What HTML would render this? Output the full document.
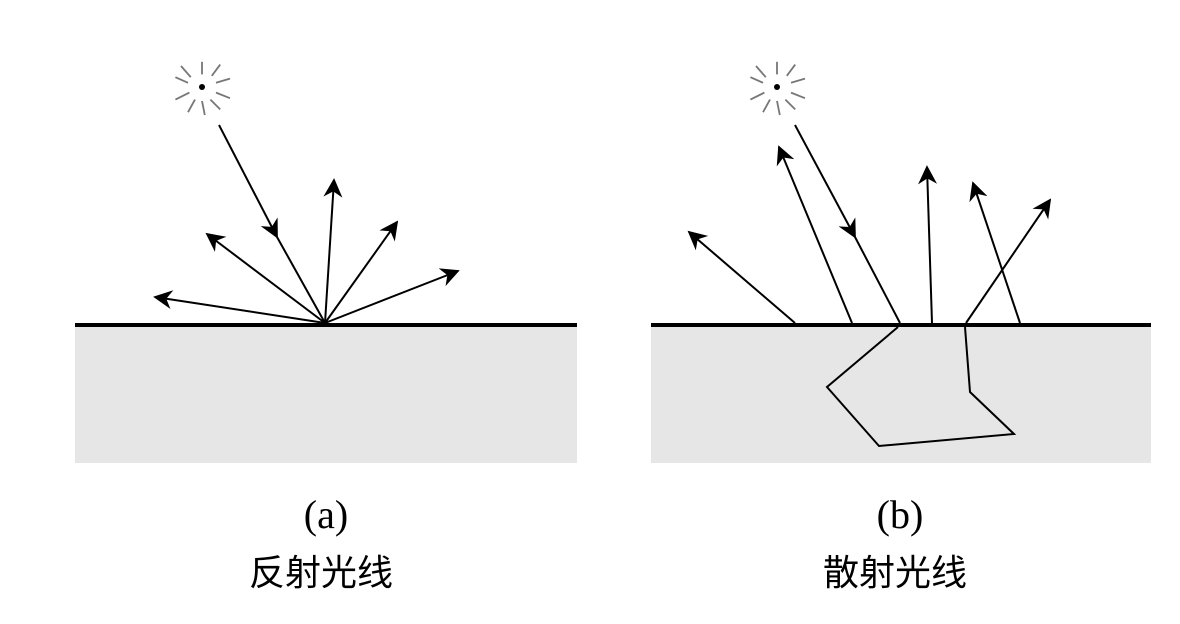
<!DOCTYPE html>
<html><head><meta charset="utf-8"><style>
html,body{margin:0;padding:0;background:#fff;}
svg{display:block;}
</style></head><body>
<svg width="1180" height="624" viewBox="0 0 1180 624" xmlns="http://www.w3.org/2000/svg">
<defs>
<marker id="ah" viewBox="0 0 10 10" refX="9" refY="5" markerWidth="19" markerHeight="19" markerUnits="userSpaceOnUse" orient="auto">
<path d="M0,0 L10,5 L0,10 L3,5 Z" fill="#000"/>
</marker>
<g id="sun" stroke="#777" stroke-width="1.3">
<line x1="-8" y1="-7" x2="-15" y2="-15"/><line x1="0" y1="-9" x2="0" y2="-18"/><line x1="7" y1="-8" x2="13" y2="-16"/>
<line x1="10" y1="-3" x2="20" y2="-6"/><line x1="10" y1="4" x2="20" y2="8"/><line x1="6" y1="9" x2="13" y2="16"/>
<line x1="0" y1="10" x2="2" y2="20"/><line x1="-5" y1="9" x2="-10" y2="18"/><line x1="-9" y1="4" x2="-19" y2="9"/><line x1="-10" y1="-3" x2="-19" y2="-7"/>
</g>
</defs>
<!-- (a) -->
<rect x="75" y="327" width="502" height="136" fill="#e6e6e6"/>
<line x1="75" y1="325" x2="577" y2="325" stroke="#000" stroke-width="4"/>
<g transform="translate(202,87) scale(1.4)"><use href="#sun"/></g><circle cx="202" cy="87" r="3" fill="#000"/>
<g stroke="#000" stroke-width="2" fill="none">
<line x1="219" y1="125" x2="277" y2="237" marker-end="url(#ah)"/>
<line x1="277" y1="237" x2="325" y2="323"/>
<line x1="325" y1="323" x2="155" y2="297" marker-end="url(#ah)"/>
<line x1="325" y1="323" x2="207" y2="234" marker-end="url(#ah)"/>
<line x1="325" y1="323" x2="334" y2="180" marker-end="url(#ah)"/>
<line x1="325" y1="323" x2="397" y2="222" marker-end="url(#ah)"/>
<line x1="325" y1="323" x2="458" y2="271" marker-end="url(#ah)"/>
</g>
<!-- (b) -->
<rect x="651" y="327" width="500" height="136" fill="#e6e6e6"/>
<line x1="651" y1="325" x2="1151" y2="325" stroke="#000" stroke-width="4"/>
<g transform="translate(777,87) scale(1.4)"><use href="#sun"/></g><circle cx="777" cy="87" r="3" fill="#000"/>
<g stroke="#000" stroke-width="2" fill="none">
<line x1="795" y1="125" x2="855" y2="237" marker-end="url(#ah)"/>
<line x1="855" y1="237" x2="900" y2="323"/>
<line x1="795" y1="323" x2="689" y2="232" marker-end="url(#ah)"/>
<line x1="852" y1="323" x2="779" y2="147" marker-end="url(#ah)"/>
<line x1="932" y1="323" x2="927" y2="167" marker-end="url(#ah)"/>
<line x1="966" y1="323" x2="1050" y2="200" marker-end="url(#ah)"/>
<line x1="1020" y1="323" x2="973" y2="183" marker-end="url(#ah)"/>
<polyline points="898,327 827,387 879,446 1014,434 970,392 965,327"/>
</g>
<text x="326" y="528" text-anchor="middle" font-family="Liberation Serif, serif" font-size="40">(a)</text>
<text x="900" y="528" text-anchor="middle" font-family="Liberation Serif, serif" font-size="40">(b)</text>
<text x="321" y="585" text-anchor="middle" font-family="Liberation Sans, Noto Sans CJK SC, sans-serif" font-size="36">反射光线</text>
<text x="895" y="585" text-anchor="middle" font-family="Liberation Sans, Noto Sans CJK SC, sans-serif" font-size="36">散射光线</text>
</svg>
</body></html>
